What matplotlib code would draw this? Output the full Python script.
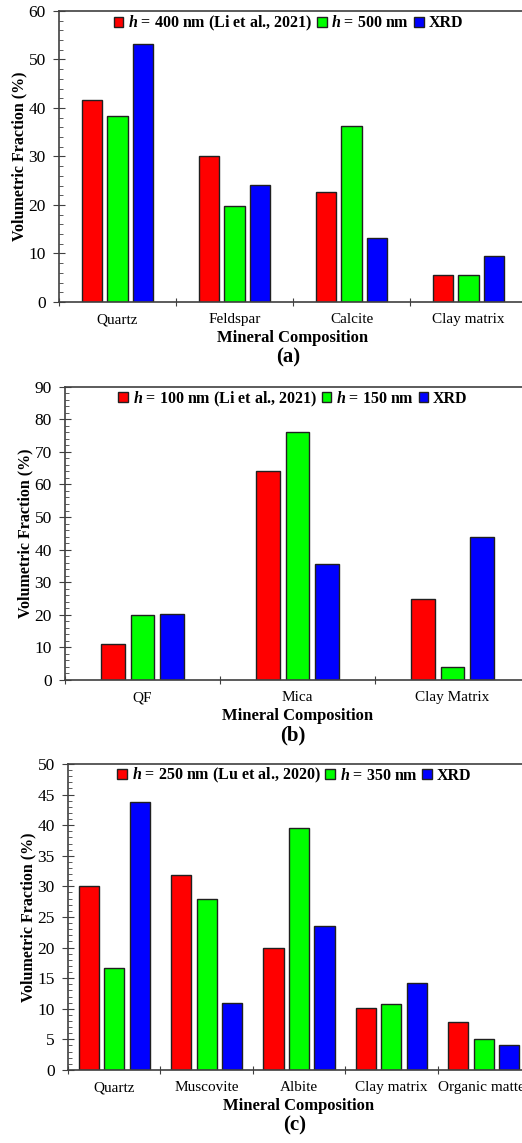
import numpy as np
import matplotlib
matplotlib.use("Agg")
import matplotlib.pyplot as plt
from matplotlib.ticker import MultipleLocator
from matplotlib.transforms import offset_copy

plt.rcParams['font.family'] = ['Liberation Serif', 'DejaVu Serif']
plt.rcParams['mathtext.fontset'] = 'custom'
plt.rcParams['mathtext.it'] = 'Liberation Serif:bold:italic'
plt.rcParams['mathtext.rm'] = 'Liberation Serif:bold'

# panel (a)
cats_a = ['Quartz', 'Feldspar', 'Calcite', 'Clay matrix']
h400 = [41.7, 30.2, 22.6, 5.6]
h500 = [38.3, 19.7, 36.2, 5.6]
xrd_a = [53.2, 24.2, 13.1, 9.4]
labels_a = ['$h$ = 400 nm (Li et al., 2021)', '$h$ = 500 nm', 'XRD']

# panel (b)
cats_b = ['QF', 'Mica', 'Clay Matrix']
h100 = [11.0, 64.1, 24.7]
h150 = [19.9, 76.0, 4.0]
xrd_b = [20.2, 35.7, 44.0]
labels_b = ['$h$ = 100 nm (Li et al., 2021)', '$h$ = 150 nm', 'XRD']

# panel (c)
cats_c = ['Quartz', 'Muscovite', 'Albite', 'Clay matrix', 'Organic matter']
h250 = [30.0, 31.9, 20.0, 10.1, 7.9]
h350 = [16.7, 27.9, 39.5, 10.8, 5.0]
xrd_c = [43.8, 10.9, 23.6, 14.2, 4.0]
labels_c = ['$h$ = 250 nm (Lu et al., 2020)', '$h$ = 350 nm', 'XRD']

colors = ['#ff0000', '#00ff00', '#0000ff']
spine_col = '#404040'

fig = plt.figure(figsize=(5.22, 11.43), dpi=100)


def panel(rect, cats, series, labels, ymax, major, minor, step, width, tag):
    ax = fig.add_axes(rect)
    x = np.arange(len(cats))
    for i, (vals, lab) in enumerate(zip(series, labels)):
        ax.bar(x + (i - 1) * step, vals, width, color=colors[i],
               edgecolor='#202020', linewidth=1.0, label=lab, zorder=2)
    ax.set_xlim(-0.5, len(cats) - 0.5)
    ax.set_ylim(0, ymax)
    ax.yaxis.set_major_locator(MultipleLocator(major))
    ax.yaxis.set_minor_locator(MultipleLocator(minor))
    ax.set_xticks(np.arange(len(cats) + 1) - 0.5)
    ax.set_xticklabels([])
    ax.set_xticks(x, minor=True)
    ax.set_xticklabels(cats, minor=True, fontsize=11)
    ax.tick_params(axis='x', which='minor', length=0, pad=8)
    ax.tick_params(axis='x', which='major', direction='inout', length=6,
                   color=spine_col)
    ax.tick_params(axis='y', which='major', direction='inout', length=9,
                   color=spine_col, labelsize=12.5, pad=5)
    ax.tick_params(axis='y', which='minor', direction='in', length=3,
                   color=spine_col)
    for s in ['left', 'bottom', 'top']:
        ax.spines[s].set_color(spine_col)
        ax.spines[s].set_linewidth(1.2)
    ax.spines['right'].set_visible(False)
    ax.set_ylabel('Volumetric Fraction (%)', fontsize=11.5, fontweight='bold',
                  labelpad=1)
    ax.set_xlabel('Mineral Composition', fontsize=12, fontweight='bold',
                  labelpad=3)
    leg = ax.legend(loc='upper center', bbox_to_anchor=(0.49, 1.04), ncol=3,
                    frameon=False, handlelength=0.6, handleheight=0.6,
                    handletextpad=0.3, columnspacing=0.3,
                    prop={'weight': 'bold', 'size': 11.5})
    for p in leg.get_patches():
        p.set_edgecolor('#202020')
    tr = offset_copy(ax.transAxes, fig=fig, x=0, y=-46, units='dots')
    ax.text(0.49, 0, tag, transform=tr, ha='center', va='top',
            fontsize=15, fontweight='bold')
    return ax


panel([0.113, 0.7358, 0.8966, 0.2546], cats_a, [h400, h500, xrd_a], labels_a,
      60, 10, 2, 0.22, 0.175, '(a)')
panel([0.1245, 0.4051, 0.891, 0.2566], cats_b, [h100, h150, xrd_b], labels_b,
      90, 10, 2, 0.19, 0.15, '(b)')
panel([0.1303, 0.0639, 0.885, 0.2677], cats_c, [h250, h350, xrd_c], labels_c,
      50, 5, 1, 0.276, 0.217, '(c)')

fig.savefig('out.png', dpi=100)
